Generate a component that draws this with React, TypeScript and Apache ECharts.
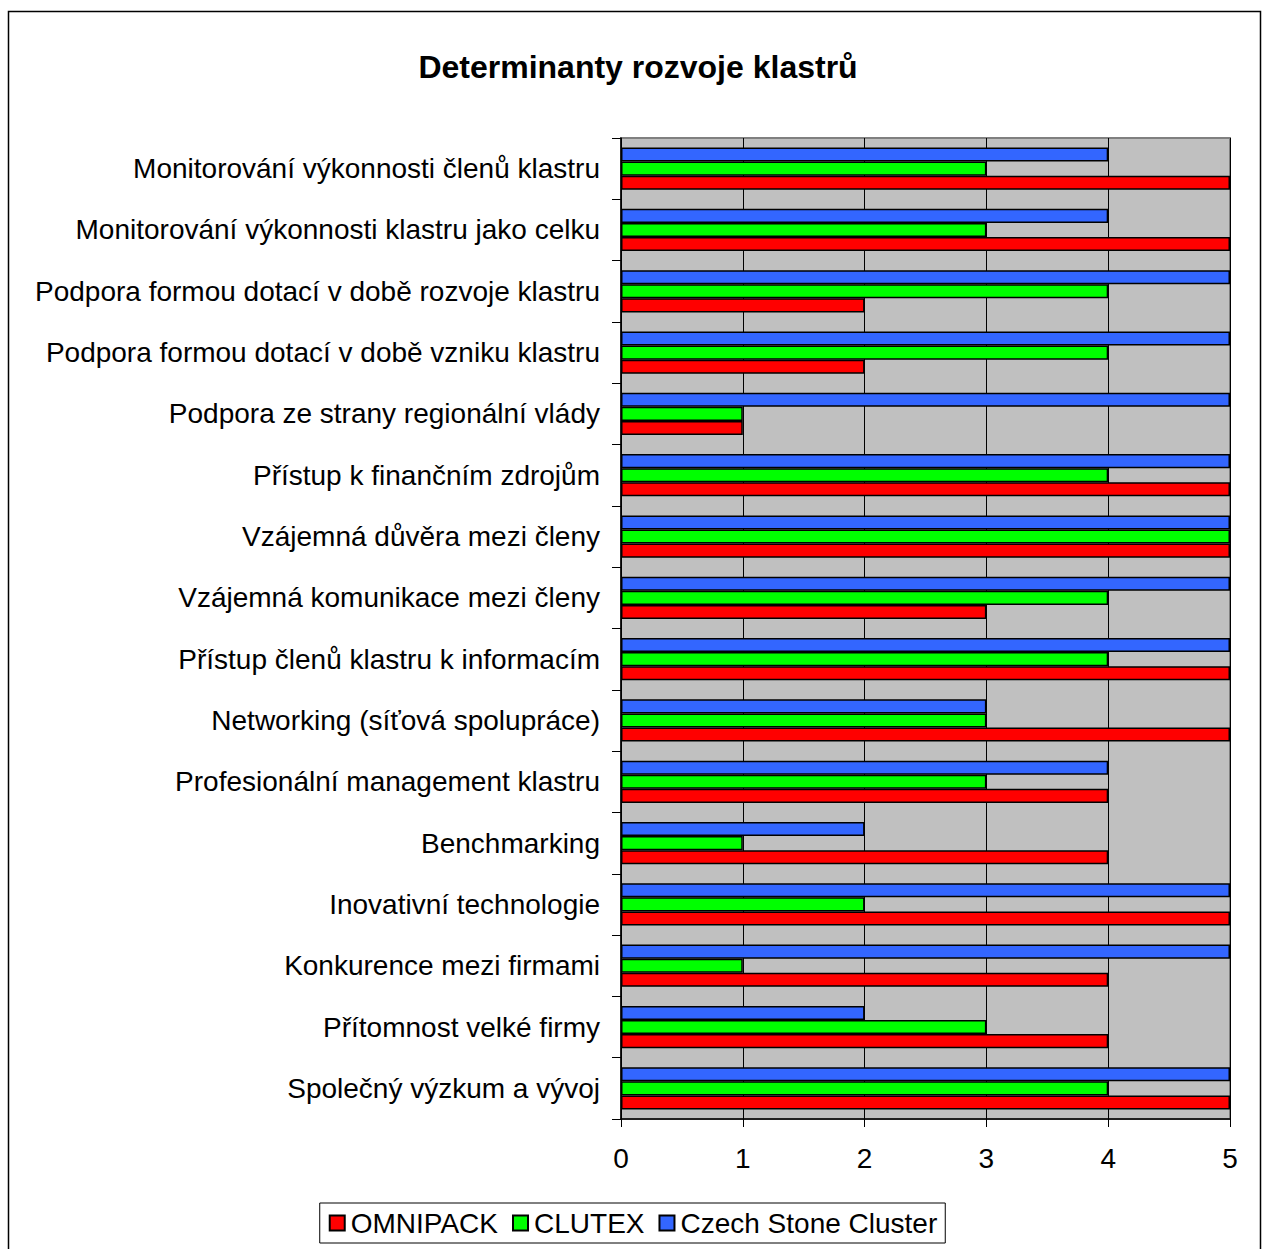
import React, { useEffect, useRef } from "react";
import * as echarts from "echarts";

const categories = [
  "Monitorování výkonnosti členů klastru",
  "Monitorování výkonnosti klastru jako celku",
  "Podpora formou dotací v době rozvoje klastru",
  "Podpora formou dotací v době vzniku klastru",
  "Podpora ze strany regionální vlády",
  "Přístup k finančním zdrojům",
  "Vzájemná důvěra mezi členy",
  "Vzájemná komunikace mezi členy",
  "Přístup členů klastru k informacím",
  "Networking (síťová spolupráce)",
  "Profesionální management klastru",
  "Benchmarking",
  "Inovativní technologie",
  "Konkurence mezi firmami",
  "Přítomnost velké firmy",
  "Společný výzkum a vývoj",
];

const omnipack = [5, 5, 2, 2, 1, 5, 5, 3, 5, 5, 4, 4, 5, 4, 4, 5];
const clutex = [3, 3, 4, 4, 1, 4, 5, 4, 4, 3, 3, 1, 2, 1, 3, 4];
const czechStone = [4, 4, 5, 5, 5, 5, 5, 5, 5, 3, 4, 2, 5, 5, 2, 5];

const seriesNames = ["OMNIPACK", "CLUTEX", "Czech Stone Cluster"];
const seriesColors = ["#FF0000", "#00FF00", "#3366FF"];
const xTicks = [0, 1, 2, 3, 4, 5];

const FONT = "Liberation Sans, Arial, sans-serif";

export default function App() {
  const ref = useRef<HTMLDivElement>(null);
  useEffect(() => {
    document.body.style.margin = "0";
    const chart = echarts.init(ref.current!, null, { renderer: "svg" });
    const data = [omnipack, clutex, czechStone];
    const order = [2, 1, 0];
    chart.setOption({
      animation: false,
      backgroundColor: "#FFFFFF",
      title: {
        text: "Determinanty rozvoje klastrů",
        left: 633,
        textAlign: "center",
        top: 46,
        textStyle: { fontFamily: FONT, fontSize: 32, fontWeight: "bold", color: "#000" },
      },
      graphic: [
        {
          type: "rect",
          shape: { x: 8.5, y: 11.5, width: 1252, height: 1260 },
          style: { fill: "none", stroke: "#000", lineWidth: 1.5 },
          z: -10,
        },
      ],
      legend: {
        data: seriesNames,
        left: "center",
        top: 1203,
        orient: "horizontal",
        borderColor: "#000",
        borderWidth: 1,
        padding: [6, 8, 6, 9],
        itemWidth: 15,
        itemHeight: 15,
        itemGap: 14,
        icon: "rect",
        textStyle: { fontFamily: FONT, fontSize: 28, color: "#000", padding: [0, 0, 0, 1] },
      },
      grid: {
        left: 621,
        top: 138,
        right: 36,
        bottom: 130,
        show: true,
        backgroundColor: "#C0C0C0",
        borderColor: "#808080",
        borderWidth: 2,
      },
      xAxis: {
        type: "value",
        min: 0,
        max: 5,
        interval: 1,
        axisLine: { show: true, lineStyle: { color: "#000", width: 1.5 } },
        axisTick: { show: true, length: 8, lineStyle: { color: "#000" } },
        splitLine: { show: true, lineStyle: { color: "#000", width: 1 } },
        axisLabel: {
          fontFamily: FONT,
          fontSize: 28,
          color: "#000",
          margin: 25,
          formatter: (v: number) => (xTicks.includes(v) ? String(v) : ""),
        },
      },
      yAxis: {
        type: "category",
        data: categories,
        inverse: true,
        axisLine: { show: true, lineStyle: { color: "#000", width: 1.5 } },
        axisTick: { show: true, length: 9, alignWithLabel: false, lineStyle: { color: "#000" } },
        axisLabel: { fontFamily: FONT, fontSize: 28, color: "#000", margin: 21 },
        splitLine: { show: false },
      },
      series: order.map((i) => ({
        name: seriesNames[i],
        type: "bar",
        data: data[i],
        barGap: "0%",
        barCategoryGap: "31%",
        itemStyle: { color: seriesColors[i], borderColor: "#000", borderWidth: 1.5 },
      })),
    });
    return () => chart.dispose();
  }, []);
  return <div ref={ref} style={{ width: 1266, height: 1249 }} />;
}
